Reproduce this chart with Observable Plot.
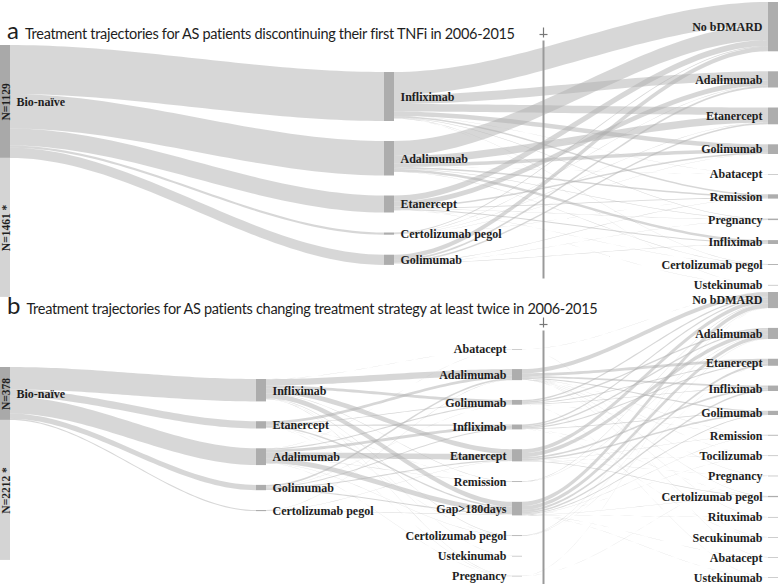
<!DOCTYPE html>
<html><head><meta charset="utf-8">
<script src="https://cdn.jsdelivr.net/npm/d3@7"></script>
<script src="https://cdn.jsdelivr.net/npm/@observablehq/plot@0.6"></script>
<style>
body{margin:0;background:#fff;}
#wrap{position:relative;width:778px;height:584px;overflow:hidden;background:#fff;}
#wrap svg text{font-family:"Liberation Serif","Times New Roman",serif;font-weight:bold;}
.panel{position:absolute;left:0;}
.title{position:absolute;left:7px;font-family:Lato,"Open Sans",sans-serif;font-size:14.5px;letter-spacing:-0.3px;color:#1e1e1e;white-space:nowrap;z-index:5;line-height:18px;}
.title .l{font-size:24px;margin-right:6px;letter-spacing:0;}
</style></head><body>
<div id="wrap"></div>
<script>
// ---------------- Panel a data ----------------
const aTitle = "Treatment trajectories for AS patients discontinuing their first TNFi in 2006-2015";
const aStage1 = ["Bio-naïve"];
const aStage2 = ["Infliximab", "Adalimumab", "Etanercept", "Certolizumab pegol", "Golimumab"];
const aStage3 = ["No bDMARD", "Adalimumab", "Etanercept", "Golimumab", "Abatacept", "Remission", "Pregnancy", "Infliximab", "Certolizumab pegol", "Ustekinumab"];
const aCounts = [{label: "N=1129", span: 1129}, {label: "N=1461 *", span: 1390}];
// [stage, from, to, patients]
const aLinks = [
  [0, "Bio-naïve", "Infliximab", 490],
  [0, "Bio-naïve", "Adalimumab", 345],
  [0, "Bio-naïve", "Etanercept", 170],
  [0, "Bio-naïve", "Certolizumab pegol", 22],
  [0, "Bio-naïve", "Golimumab", 102],
  [1, "Infliximab", "No bDMARD", 230],
  [1, "Infliximab", "Adalimumab", 90],
  [1, "Infliximab", "Etanercept", 75],
  [1, "Infliximab", "Golimumab", 45],
  [1, "Infliximab", "Abatacept", 2],
  [1, "Infliximab", "Remission", 15],
  [1, "Infliximab", "Pregnancy", 5],
  [1, "Infliximab", "Certolizumab pegol", 3],
  [1, "Infliximab", "Ustekinumab", 1],
  [1, "Adalimumab", "No bDMARD", 150],
  [1, "Adalimumab", "Etanercept", 75],
  [1, "Adalimumab", "Golimumab", 35],
  [1, "Adalimumab", "Abatacept", 1],
  [1, "Adalimumab", "Remission", 15],
  [1, "Adalimumab", "Pregnancy", 5],
  [1, "Adalimumab", "Infliximab", 25],
  [1, "Adalimumab", "Certolizumab pegol", 4],
  [1, "Etanercept", "No bDMARD", 60],
  [1, "Etanercept", "Adalimumab", 50],
  [1, "Etanercept", "Golimumab", 15],
  [1, "Etanercept", "Remission", 8],
  [1, "Etanercept", "Pregnancy", 3],
  [1, "Etanercept", "Infliximab", 10],
  [1, "Etanercept", "Certolizumab pegol", 2],
  [1, "Etanercept", "Ustekinumab", 1],
  [1, "Certolizumab pegol", "No bDMARD", 8],
  [1, "Certolizumab pegol", "Adalimumab", 4],
  [1, "Certolizumab pegol", "Etanercept", 3],
  [1, "Certolizumab pegol", "Golimumab", 2],
  [1, "Certolizumab pegol", "Remission", 1],
  [1, "Golimumab", "No bDMARD", 45],
  [1, "Golimumab", "Adalimumab", 18],
  [1, "Golimumab", "Etanercept", 15],
  [1, "Golimumab", "Remission", 4],
  [1, "Golimumab", "Pregnancy", 2],
  [1, "Golimumab", "Infliximab", 4]
];

// ---------------- Panel b data ----------------
const bTitle = "Treatment trajectories for AS patients changing treatment strategy at least twice in 2006-2015";
const bStage1 = ["Bio-naïve"];
const bStage2 = ["Infliximab", "Etanercept", "Adalimumab", "Golimumab", "Certolizumab pegol"];
const bStage3 = ["Abatacept", "Adalimumab", "Golimumab", "Infliximab", "Etanercept", "Remission", "Gap>180days", "Certolizumab pegol", "Ustekinumab", "Pregnancy"];
const bStage4 = ["No bDMARD", "Adalimumab", "Etanercept", "Infliximab", "Golimumab", "Remission", "Tocilizumab", "Pregnancy", "Certolizumab pegol", "Rituximab", "Secukinumab", "Abatacept", "Ustekinumab"];
const bCounts = [{label: "N=378", span: 378}, {label: "N=2212 *", span: 1000}];
const bLinks = [
  [0, "Bio-naïve", "Infliximab", 160],
  [0, "Bio-naïve", "Etanercept", 52],
  [0, "Bio-naïve", "Adalimumab", 120],
  [0, "Bio-naïve", "Golimumab", 38],
  [0, "Bio-naïve", "Certolizumab pegol", 8],
  [1, "Infliximab", "Abatacept", 1],
  [1, "Infliximab", "Adalimumab", 45],
  [1, "Infliximab", "Golimumab", 20],
  [1, "Infliximab", "Etanercept", 35],
  [1, "Infliximab", "Remission", 3],
  [1, "Infliximab", "Gap>180days", 35],
  [1, "Infliximab", "Certolizumab pegol", 3],
  [1, "Infliximab", "Ustekinumab", 1],
  [1, "Infliximab", "Pregnancy", 2],
  [1, "Etanercept", "Adalimumab", 20],
  [1, "Etanercept", "Golimumab", 5],
  [1, "Etanercept", "Infliximab", 8],
  [1, "Etanercept", "Remission", 1],
  [1, "Etanercept", "Gap>180days", 10],
  [1, "Etanercept", "Certolizumab pegol", 1],
  [1, "Etanercept", "Pregnancy", 1],
  [1, "Adalimumab", "Abatacept", 1],
  [1, "Adalimumab", "Golimumab", 8],
  [1, "Adalimumab", "Infliximab", 20],
  [1, "Adalimumab", "Etanercept", 40],
  [1, "Adalimumab", "Remission", 2],
  [1, "Adalimumab", "Gap>180days", 35],
  [1, "Adalimumab", "Certolizumab pegol", 2],
  [1, "Adalimumab", "Pregnancy", 1],
  [1, "Golimumab", "Adalimumab", 12],
  [1, "Golimumab", "Golimumab", 1],
  [1, "Golimumab", "Infliximab", 7],
  [1, "Golimumab", "Etanercept", 8],
  [1, "Golimumab", "Gap>180days", 8],
  [1, "Certolizumab pegol", "Adalimumab", 2],
  [1, "Certolizumab pegol", "Etanercept", 2],
  [1, "Certolizumab pegol", "Gap>180days", 3],
  [2, "Abatacept", "No bDMARD", 1],
  [2, "Abatacept", "Abatacept", 1],
  [2, "Adalimumab", "No bDMARD", 30],
  [2, "Adalimumab", "Etanercept", 20],
  [2, "Adalimumab", "Infliximab", 12],
  [2, "Adalimumab", "Golimumab", 8],
  [2, "Adalimumab", "Remission", 1],
  [2, "Adalimumab", "Tocilizumab", 1],
  [2, "Adalimumab", "Pregnancy", 1],
  [2, "Adalimumab", "Certolizumab pegol", 2],
  [2, "Adalimumab", "Rituximab", 1],
  [2, "Adalimumab", "Secukinumab", 1],
  [2, "Golimumab", "No bDMARD", 10],
  [2, "Golimumab", "Adalimumab", 10],
  [2, "Golimumab", "Etanercept", 6],
  [2, "Golimumab", "Infliximab", 4],
  [2, "Golimumab", "Remission", 1],
  [2, "Golimumab", "Ustekinumab", 1],
  [2, "Infliximab", "No bDMARD", 10],
  [2, "Infliximab", "Adalimumab", 10],
  [2, "Infliximab", "Etanercept", 8],
  [2, "Infliximab", "Golimumab", 5],
  [2, "Infliximab", "Certolizumab pegol", 1],
  [2, "Infliximab", "Secukinumab", 1],
  [2, "Etanercept", "No bDMARD", 28],
  [2, "Etanercept", "Adalimumab", 28],
  [2, "Etanercept", "Infliximab", 12],
  [2, "Etanercept", "Golimumab", 11],
  [2, "Etanercept", "Remission", 2],
  [2, "Etanercept", "Tocilizumab", 1],
  [2, "Etanercept", "Pregnancy", 1],
  [2, "Etanercept", "Certolizumab pegol", 4],
  [2, "Remission", "No bDMARD", 3],
  [2, "Remission", "Adalimumab", 2],
  [2, "Gap>180days", "No bDMARD", 30],
  [2, "Gap>180days", "Adalimumab", 27],
  [2, "Gap>180days", "Etanercept", 15],
  [2, "Gap>180days", "Infliximab", 11],
  [2, "Gap>180days", "Golimumab", 6],
  [2, "Gap>180days", "Remission", 2],
  [2, "Gap>180days", "Tocilizumab", 1],
  [2, "Gap>180days", "Certolizumab pegol", 2],
  [2, "Gap>180days", "Rituximab", 1],
  [2, "Gap>180days", "Abatacept", 1],
  [2, "Gap>180days", "Ustekinumab", 1],
  [2, "Certolizumab pegol", "No bDMARD", 2],
  [2, "Certolizumab pegol", "Adalimumab", 2],
  [2, "Certolizumab pegol", "Etanercept", 1],
  [2, "Pregnancy", "No bDMARD", 1],
  [2, "Pregnancy", "Pregnancy", 1]
];

// ---------------- layout & drawing ----------------
const FONT = "Liberation Serif, Times New Roman, serif";

function layout(stages, rawLinks, topsPx, gapPx, k) {
  const nodes = new Map();
  stages.forEach((names, s) => names.forEach(n => nodes.set(s + ":" + n, {s, name: n, inV: 0, outV: 0, ins: [], outs: []})));
  const links = rawLinks.map(([s, from, to, v], i) => {
    const src = nodes.get(s + ":" + from), tgt = nodes.get((s + 1) + ":" + to);
    const l = {id: i, s, src, tgt, v};
    src.outV += v; tgt.inV += v; src.outs.push(l); tgt.ins.push(l);
    return l;
  });
  stages.forEach((names, s) => {
    let y = topsPx[s] / k;
    names.forEach(n => {
      const nd = nodes.get(s + ":" + n);
      nd.value = Math.max(nd.inV, nd.outV);
      nd.y0 = y; nd.y1 = y + nd.value; y = nd.y1 + gapPx / k;
    });
  });
  for (const nd of nodes.values()) {
    let y = nd.y0;
    nd.outs.sort((a, b) => a.tgt.y0 - b.tgt.y0).forEach(l => { l.sy = y; y += l.v; });
    y = nd.y0;
    nd.ins.sort((a, b) => a.src.y0 - b.src.y0).forEach(l => { l.ty = y; y += l.v; });
  }
  return {nodes: [...nodes.values()], links};
}

function drawPanel(cfg) {
  const {stages, links: raw, topsPx, gapPx, k, height, counts, marker, lastLeftLabels} = cfg;
  const ncol = stages.length;
  const bw = 10 / 768 * (ncol - 1);
  const {nodes, links} = layout(stages, raw, topsPx, gapPx, k);
  const pts = [];
  const N = 48;
  links.forEach(l => {
    const x0 = l.s + bw, x1 = l.s + 1;
    for (let j = 0; j <= N; j++) {
      const t = j / N, f = t * t * (3 - 2 * t);
      const y = l.sy + (l.ty - l.sy) * f;
      pts.push({id: l.id, x: x0 + (x1 - x0) * t, y1: y, y2: y + l.v});
    }
  });
  const first = nodes.find(n => n.s === 0);
  const segs = [
    {x1: 0, x2: bw, y1: first.y0, y2: first.y0 + counts[0].span, label: counts[0].label, fill: "#a9a9a9"},
    {x1: 0, x2: bw, y1: first.y0 + counts[0].span, y2: first.y0 + counts[0].span + counts[1].span, label: counts[1].label, fill: "#d4d4d4"}
  ];
  const boxes = nodes.filter(n => n.s > 0).map(d => ({x1: d.s, x2: d.s + bw, y1: d.y0, y2: Math.max(d.y1, d.y0 + 0.6 / k)}));
  const leftLab = nodes.filter(n => n.s > 0 && n.s < ncol - 1 && !lastLeftLabels.includes(n.s)).map(d => ({x: d.s + bw, y: (d.y0 + d.y1) / 2, name: d.name}));
  const endLab = nodes.filter(n => n.s === ncol - 1 || lastLeftLabels.includes(n.s)).map(d => ({x: d.s, y: (d.y0 + d.y1) / 2, name: d.name}));
  const firstLab = [{x: bw, y: (first.y0 + first.y1) / 2, name: first.name}];
  const segLab = segs.map(d => ({x: bw / 2, y: (d.y1 + d.y2) / 2, label: d.label}));
  const px = p => p / k;
  const dxc = 4 / 768 * (ncol - 1);
  const vline = [{x: marker.x, y1: px(marker.top), y2: px(marker.bottom)}];
  const cross = [{x: marker.x, y1: px(marker.top - 13), y2: px(marker.top - 3)}];
  const crossH = [{x1: marker.x - dxc, x2: marker.x + dxc, y: px(marker.top - 6)}];
  const txt = {fontFamily: FONT, fontWeight: "bold", fontSize: 12, fill: "#1e1e1e"};
  return Plot.plot({
    width: 778, height,
    marginTop: 0, marginRight: 10, marginBottom: 0, marginLeft: 0,
    style: "background: transparent; overflow: visible;",
    x: {domain: [0, ncol - 1], range: [0, 768], axis: null},
    y: {domain: [0, height / k], range: [0, height], axis: null},
    marks: [
      Plot.area(pts, {x1: "x", y1: "y1", y2: "y2", z: "id", fill: "#b0b0b0", fillOpacity: 0.5, curve: "linear"}),
      Plot.rect(segs, {x1: "x1", x2: "x2", y1: "y1", y2: "y2", fill: "fill"}),
      Plot.rect(boxes, {x1: "x1", x2: "x2", y1: "y1", y2: "y2", fill: "#adadad"}),
      Plot.link(vline, {x1: "x", x2: "x", y1: "y1", y2: "y2", stroke: "#9a9a9a", strokeWidth: 2}),
      Plot.link(cross, {x1: "x", x2: "x", y1: "y1", y2: "y2", stroke: "#777", strokeWidth: 1.2}),
      Plot.link(crossH, {x1: "x1", x2: "x2", y1: "y", y2: "y", stroke: "#777", strokeWidth: 1.2}),
      Plot.text(segLab, {x: "x", y: "y", text: "label", rotate: -90, dx: 1, ...txt, fontSize: 11.5}),
      Plot.text(firstLab, {x: "x", y: "y", text: "name", textAnchor: "start", dx: 6, ...txt}),
      Plot.text(leftLab, {x: "x", y: "y", text: "name", textAnchor: "start", dx: 6, ...txt}),
      Plot.text(endLab, {x: "x", y: "y", text: "name", textAnchor: "end", dx: -6, ...txt})
    ]
  });
}

const wrap = document.getElementById("wrap");
function addPanel(svg, top) {
  const d = document.createElement("div");
  d.className = "panel"; d.style.top = top + "px";
  d.appendChild(svg); wrap.appendChild(d);
}
function addTitle(letter, text, top) {
  const d = document.createElement("div");
  d.className = "title"; d.style.top = top + "px";
  const l = document.createElement("span"); l.className = "l"; l.textContent = letter;
  d.appendChild(l); d.appendChild(document.createTextNode(text));
  wrap.appendChild(d);
}

addPanel(drawPanel({
  stages: [aStage1, aStage2, aStage3], links: aLinks,
  topsPx: [45, 72, 2], gapPx: 20, k: 0.1, height: 300, counts: aCounts,
  marker: {x: 543 / 384, top: 40, bottom: 278}, lastLeftLabels: []
}), 0);
addPanel(drawPanel({
  stages: [bStage1, bStage2, bStage3, bStage4], links: bLinks,
  topsPx: [81, 93, 63, 6], gapPx: 19.8, k: 0.14, height: 298, counts: bCounts,
  marker: {x: 543 / 256, top: 44, bottom: 298}, lastLeftLabels: [2]
}), 286);
addTitle("a", aTitle, 21);
addTitle("b", bTitle, 296);
</script>
</body></html>
